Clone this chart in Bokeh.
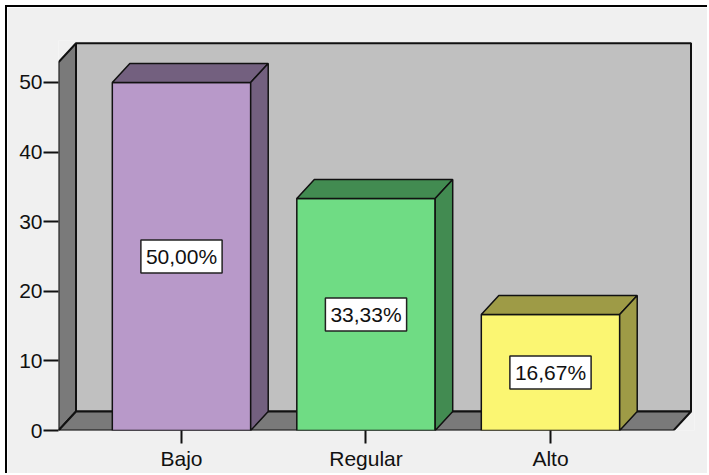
from bokeh.plotting import figure
from bokeh.models import Range1d, FixedTicker, ColumnDataSource
from bokeh.core.properties import value
from bokeh.embed import file_html
from bokeh.resources import INLINE

# ---- data ----
categories = ["Bajo", "Regular", "Alto"]
values = [50.0, 33.33, 16.67]
pct_labels = ["50,00%", "33,33%", "16,67%"]
y_ticks = [0, 10, 20, 30, 40, 50]

front_colors = ["#b899c9", "#6fdc84", "#fbf672"]
dark_colors = ["#73607f", "#428b51", "#9e9b46"]

# ---- geometry (style) ----
bar_w = 0.75
dx = 0.095      # depth in x units
dy = 2.73       # depth in y units
wall_top = 52.9
x0 = -2.0 / 3.0
x1 = len(categories) - 1 + 2.0 / 3.0
FONT = "Liberation Sans"

p = figure(width=702, height=468, output_backend="svg", toolbar_location=None,
           x_range=Range1d(x0, 2.7805), y_range=Range1d(0, 56.03),
           min_border_left=51, min_border_right=15, min_border_top=33, min_border_bottom=45)
p.margin = (5, 0, 0, 5)
p.styles = {"border-top": "2px solid #000", "border-left": "2px solid #000"}
p.background_fill_color = "#f0f0f0"
p.border_fill_color = "#f0f0f0"
p.outline_line_color = None
p.grid.visible = False

# back wall
p.patch([x0 + dx, x1 + dx, x1 + dx, x0 + dx], [dy, dy, wall_top + dy, wall_top + dy],
        fill_color="#c0c0c0", line_color="#111111", line_width=2)
# side wall
p.patch([x0, x0 + dx, x0 + dx, x0], [0, dy, wall_top + dy, wall_top],
        fill_color="#7a7a7a", line_color="#111111", line_width=2)
# floor
p.patch([x0, x1, x1 + dx, x0 + dx], [0, 0, dy, dy],
        fill_color="#7a7a7a", line_color="#111111", line_width=2)

# bars
for i, v in enumerate(values):
    l, r = i - bar_w / 2, i + bar_w / 2
    p.patch([l, r, r, l], [0, 0, v, v], fill_color=front_colors[i],
            line_color="#111111", line_width=1.5)
    p.patch([l, r, r + dx, l + dx], [v, v, v + dy, v + dy], fill_color=dark_colors[i],
            line_color="#111111", line_width=1.5)
    p.patch([r, r + dx, r + dx, r], [0, dy, v + dy, v], fill_color=dark_colors[i],
            line_color="#111111", line_width=1.5)

src = ColumnDataSource(dict(x=list(range(len(categories))), y=[v / 2 for v in values],
                            t=pct_labels))
p.text(x="x", y="y", text="t", source=src, text_align="center", text_baseline="middle",
       text_font=value(FONT), text_font_size="21px", text_color="#111111",
       background_fill_color="white", border_line_color="#222222", border_line_width=1.5,
       padding=5)

# axes
p.yaxis.ticker = FixedTicker(ticks=y_ticks)
p.yaxis.axis_line_color = None
p.yaxis.major_tick_out = 15
p.yaxis.major_tick_in = 0
p.yaxis.minor_tick_line_color = None
p.yaxis.major_tick_line_width = 2
p.yaxis.major_tick_line_color = "#111111"
p.yaxis.major_label_standoff = 1
p.yaxis.major_label_text_font = FONT
p.yaxis.major_label_text_font_size = "21px"
p.yaxis.major_label_text_color = "#111111"

p.xaxis.ticker = FixedTicker(ticks=list(range(len(categories))))
p.xaxis.major_label_overrides = {i: c for i, c in enumerate(categories)}
p.xaxis.axis_line_color = None
p.xaxis.major_tick_out = 13
p.xaxis.major_tick_in = 0
p.xaxis.minor_tick_line_color = None
p.xaxis.major_tick_line_width = 2
p.xaxis.major_tick_line_color = "#111111"
p.xaxis.major_label_standoff = 3
p.xaxis.major_label_text_font = FONT
p.xaxis.major_label_text_font_size = "21px"
p.xaxis.major_label_text_color = "#111111"

open("out.html", "w").write(file_html(p, INLINE))
